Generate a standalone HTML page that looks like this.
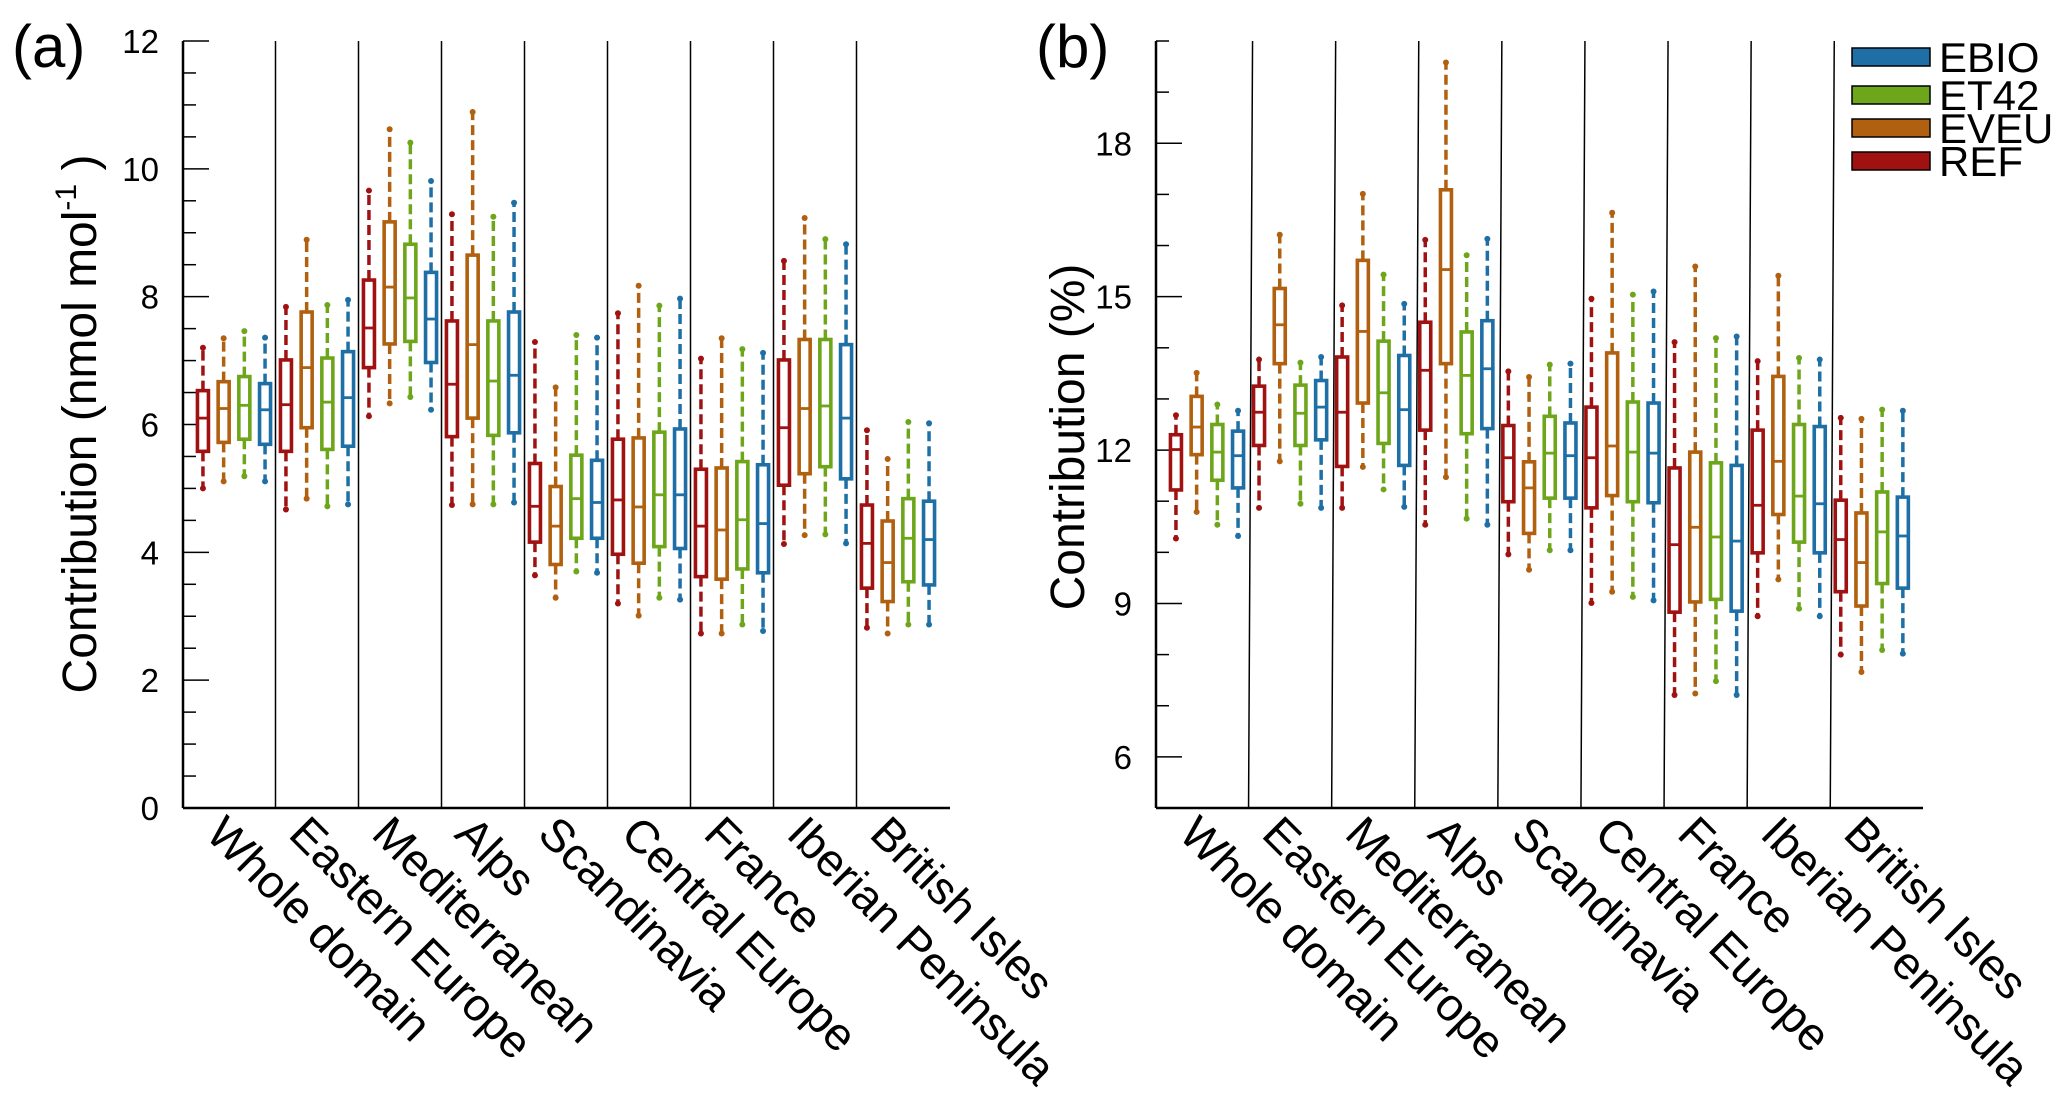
<!DOCTYPE html>
<html><head><meta charset="utf-8"><style>
html,body{margin:0;padding:0;background:#fff;}
svg{display:block;font-family:"Liberation Sans",sans-serif;}
</style></head><body>
<svg id="chart" width="2067" height="1107" viewBox="0 0 2067 1107" xmlns="http://www.w3.org/2000/svg">
<text x="12" y="67" font-size="60">(a)</text>
<text x="1036" y="67" font-size="60">(b)</text>
<text transform="translate(96,424) rotate(-90)" text-anchor="middle" font-size="48">Contribution (nmol mol<tspan font-size="30" dy="-20">-1</tspan><tspan dy="20"> )</tspan></text>
<text transform="translate(1084,437) rotate(-90)" text-anchor="middle" font-size="48">Contribution (%)</text>
<g id="pa"></g>
<g id="pb"></g>
<g id="legend"></g>
</svg>
<script>
const categories = ["Whole domain","Eastern Europe","Mediterranean","Alps","Scandinavia","Central Europe","France","Iberian Peninsula","British Isles"];
const seriesNames = ["REF","EVEU","ET42","EBIO"];
const seriesColors = ["#a01212","#b0600f","#6da61a","#1d6fa6"];
// [whisker low, q1, median, q3, whisker high]
const aREF = [[5.0,5.58,6.1,6.53,7.2],[4.67,5.58,6.31,7.01,7.84],[6.13,6.89,7.51,8.26,9.66],[4.74,5.81,6.63,7.62,9.29],[3.64,4.16,4.72,5.39,7.29],[3.2,3.97,4.82,5.77,7.74],[2.73,3.62,4.41,5.3,7.03],[4.13,5.05,5.95,7.01,8.56],[2.82,3.44,4.14,4.74,5.91]];
const aEVEU = [[5.11,5.72,6.25,6.67,7.35],[4.84,5.95,6.89,7.76,8.89],[6.33,7.26,8.15,9.17,10.62],[4.75,6.1,7.25,8.65,10.89],[3.29,3.81,4.41,5.03,6.58],[3.01,3.83,4.71,5.79,8.17],[2.73,3.58,4.35,5.32,7.35],[4.27,5.23,6.25,7.33,9.23],[2.73,3.23,3.84,4.49,5.46]];
const aET42 = [[5.19,5.77,6.3,6.75,7.46],[4.72,5.61,6.35,7.04,7.87],[6.43,7.3,7.98,8.82,10.41],[4.75,5.83,6.68,7.62,9.25],[3.7,4.22,4.84,5.52,7.4],[3.29,4.09,4.9,5.88,7.86],[2.87,3.74,4.51,5.42,7.18],[4.28,5.34,6.29,7.33,8.9],[2.87,3.54,4.22,4.84,6.04]];
const aEBIO = [[5.11,5.69,6.23,6.64,7.36],[4.75,5.66,6.42,7.14,7.95],[6.23,6.97,7.65,8.38,9.81],[4.78,5.87,6.77,7.76,9.47],[3.68,4.22,4.78,5.44,7.36],[3.26,4.06,4.9,5.93,7.97],[2.77,3.68,4.45,5.37,7.12],[4.14,5.15,6.1,7.25,8.82],[2.87,3.49,4.2,4.8,6.02]];
const bREF = [[10.27,11.22,12.01,12.3,12.68],[10.87,12.09,12.74,13.25,13.77],[10.87,11.68,12.74,13.82,14.83],[10.54,12.39,13.56,14.5,16.11],[9.96,10.99,11.85,12.48,13.54],[9.01,10.87,11.85,12.84,14.96],[7.21,8.83,10.15,11.65,14.11],[8.75,9.99,10.92,12.39,13.74],[8.0,9.23,10.25,11.02,12.63]];
const bEVEU = [[10.79,11.91,12.45,13.05,13.51],[11.78,13.69,14.45,15.16,16.21],[11.67,12.92,14.32,15.71,17.01],[11.47,13.69,15.53,17.09,19.58],[9.66,10.37,11.26,11.77,13.43],[9.23,11.11,12.08,13.9,16.64],[7.24,9.03,10.49,11.96,15.59],[9.47,10.74,11.78,13.44,15.41],[7.66,8.95,9.8,10.77,12.61]];
const bET42 = [[10.54,11.41,11.96,12.5,12.89],[10.95,12.09,12.72,13.27,13.71],[11.23,12.13,13.12,14.13,15.43],[10.66,12.32,13.46,14.31,15.81],[10.04,11.06,11.94,12.66,13.67],[9.13,10.99,11.96,12.94,15.04],[7.48,9.08,10.3,11.75,14.19],[8.9,10.2,11.1,12.5,13.8],[8.09,9.39,10.4,11.18,12.79]];
const bEBIO = [[10.32,11.26,11.89,12.37,12.77],[10.87,12.2,12.84,13.36,13.82],[10.89,11.7,12.79,13.85,14.86],[10.54,12.42,13.59,14.53,16.13],[10.04,11.06,11.89,12.53,13.69],[9.06,10.97,11.94,12.92,15.1],[7.21,8.85,10.22,11.7,14.22],[8.75,9.99,10.95,12.46,13.77],[8.02,9.3,10.32,11.08,12.77]];
const aTicks = [0,2,4,6,8,10,12];
const bTicks = [6,9,12,15,18];

const NS = "http://www.w3.org/2000/svg";
function mk(parent, tag, attrs){ const e=document.createElementNS(NS,tag); for(const k in attrs) e.setAttribute(k,attrs[k]); parent.appendChild(e); return e; }

function drawPanel(g, cfg){
  const {x0,x1,yTop,yBot,vMin,vMax,c0,step,data,ticks,minorStep,slant,tag} = cfg;
  const Y = v => yBot - (v - vMin)/(vMax - vMin)*(yBot - yTop);
  const X = (i,s) => c0 + step*i + (s-1.5)*20.7;
  let ax = mk(g,'line',{x1:x0,y1:yTop,x2:x0,y2:yBot,stroke:'#000','stroke-width':2.5});
  
  
  let bx = mk(g,'line',{x1:x0,y1:yBot,x2:x1,y2:yBot,stroke:'#000','stroke-width':2.5});
  
  
  for(let v=vMin; v<=vMax+1e-9; v+=minorStep){
    if(v===vMin) continue;
    const major = ticks.includes(Math.round(v*100)/100);
    const t = mk(g,'line',{x1:x0,y1:Y(v),x2:x0+(major?26:13),y2:Y(v),stroke:'#000','stroke-width':1.5});
    
    
  }
  ticks.forEach(v=>{
    const t = mk(g,'text',{x:x0-24,y:Y(v)+12,'text-anchor':'end','font-size':33});
    t.textContent = v;
    
    
  });
  for(let i=1;i<categories.length;i++){
    const xs = c0 + step*(i-0.5);
    const l = mk(g,'line',{x1:xs+slant,y1:yTop,x2:xs,y2:yBot,stroke:'#000','stroke-width':1.5});
    
    
  }
  categories.forEach((c,i)=>{
    const lx = c0 + step*i - 30;
    const t = mk(g,'text',{transform:`translate(${lx},836) rotate(45)`,'font-size':46});
    t.textContent = c;
    
    
  });
  data.forEach((ser,s)=>{
    const col = seriesColors[s];
    ser.forEach((d,i)=>{
      const x = X(i,s);
      const bg = mk(g,'g',{});
      
      
      mk(bg,'line',{x1:x,y1:Y(d[3]),x2:x,y2:Y(d[4]),stroke:col,'stroke-width':3.5,'stroke-dasharray':'10,5'});
      mk(bg,'line',{x1:x,y1:Y(d[1]),x2:x,y2:Y(d[0]),stroke:col,'stroke-width':3.5,'stroke-dasharray':'10,5'});
      mk(bg,'circle',{cx:x,cy:Y(d[4]),r:3,fill:col});
      mk(bg,'circle',{cx:x,cy:Y(d[0]),r:3,fill:col});
      mk(bg,'rect',{x:x-5.5,y:Y(d[3]),width:11,height:Y(d[1])-Y(d[3]),fill:'#fff',stroke:col,'stroke-width':3.6});
      mk(bg,'line',{x1:x-5.5,y1:Y(d[2]),x2:x+5.5,y2:Y(d[2]),stroke:col,'stroke-width':2.8});
    });
  });
}

drawPanel(document.getElementById('pa'),{x0:183,x1:950,yTop:41,yBot:808,vMin:0,vMax:12,c0:234,step:83,data:[aREF,aEVEU,aET42,aEBIO],ticks:aTicks,minorStep:0.5,slant:0,tag:'a'});
drawPanel(document.getElementById('pb'),{x0:1156,x1:1923,yTop:41,yBot:808,vMin:5,vMax:20,c0:1207,step:83.1,data:[bREF,bEVEU,bET42,bEBIO],ticks:bTicks,minorStep:1,slant:4,tag:'b'});

const lg = document.getElementById('legend');
const legOrder = [3,2,1,0];
const legY = [57,95,128,161];
legOrder.forEach((s,k)=>{
  const e = mk(lg,'g',{});
  
  
  mk(e,'rect',{x:1852,y:legY[k]-9,width:78,height:18,fill:seriesColors[s],stroke:'#000','stroke-width':1.5});
  const t = mk(e,'text',{x:1939,y:legY[k]+15,'font-size':42});
  t.textContent = seriesNames[s];
});
</script>
</body></html>
